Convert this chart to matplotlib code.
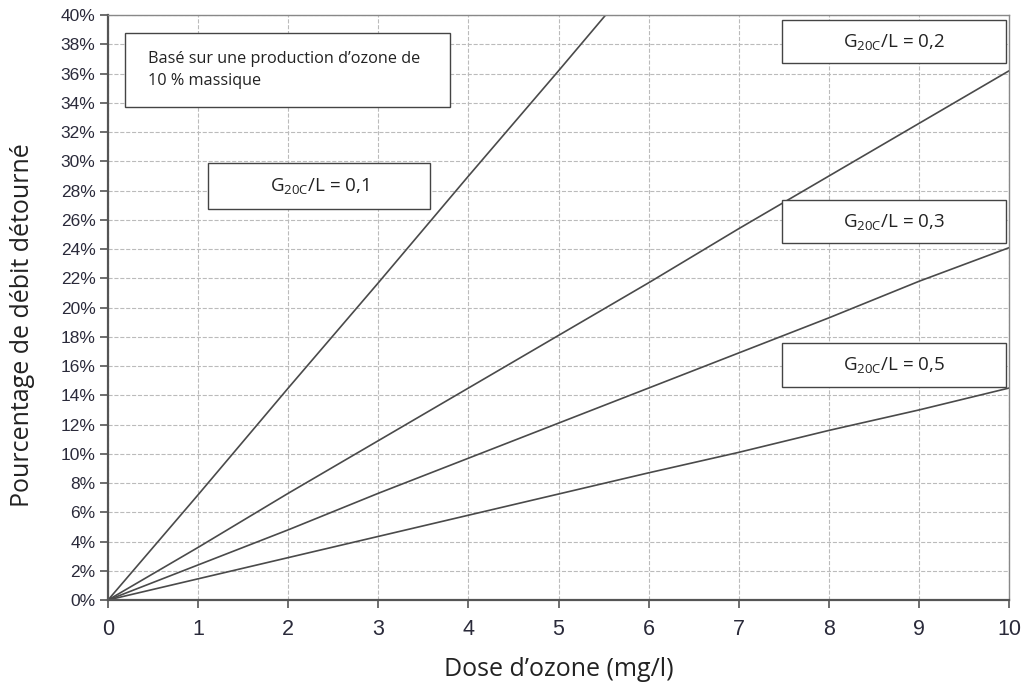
import matplotlib
matplotlib.use('Agg')
import matplotlib.pyplot as plt
from matplotlib.patches import Rectangle
from matplotlib.ticker import FuncFormatter

# Donnees (dose d'ozone en mg/l, % de debit detourne)
dose = [0, 1, 2, 3, 4, 5, 6, 7, 8, 9, 10]
gl_01 = [0, 7.2, 14.5, 21.7, 29.0, 36.2, 43.5]
gl_02 = [0, 3.6, 7.3, 10.9, 14.5, 18.1, 21.7, 25.4, 29.0, 32.6, 36.2]
gl_03 = [0, 2.4, 4.8, 7.3, 9.7, 12.1, 14.5, 16.9, 19.3, 21.8, 24.1]
gl_05 = [0, 1.45, 2.9, 4.35, 5.8, 7.25, 8.7, 10.1, 11.6, 13.0, 14.5]

plt.rcParams['mathtext.fontset'] = 'custom'
plt.rcParams['mathtext.rm'] = 'Open Sans'
plt.rcParams['mathtext.it'] = 'Open Sans'

fig = plt.figure(figsize=(10.24, 6.84), dpi=100)
ax = fig.add_axes([0.1055, 0.1228, 0.88, 0.855])

couleur = '#4a4a4a'
ax.plot(dose[:len(gl_01)], gl_01, color=couleur, lw=1.2)
ax.plot(dose, gl_02, color=couleur, lw=1.2)
ax.plot(dose, gl_03, color=couleur, lw=1.2)
ax.plot(dose, gl_05, color=couleur, lw=1.2)

ax.set_xlim(0, 10)
ax.set_ylim(0, 40)
ax.set_xticks(range(0, 11))
ax.set_yticks(range(0, 41, 2))
ax.yaxis.set_major_formatter(FuncFormatter(lambda v, p: '%d%%' % v))
ax.grid(True, ls='--', color='#bbbbbb', lw=0.8)
ax.set_axisbelow(True)

for s in ax.spines.values():
    s.set_color('#888888')
    s.set_linewidth(1.0)
ax.spines['left'].set_color('#555555')
ax.spines['left'].set_linewidth(1.6)
ax.spines['bottom'].set_color('#555555')
ax.spines['bottom'].set_linewidth(1.6)

ax.tick_params(axis='y', labelsize=12.5, colors='#555555', labelcolor='#2a2a3a', length=6, width=1.2, pad=3)
ax.tick_params(axis='x', labelsize=15.5, colors='#555555', labelcolor='#2a2a3a', length=6, width=1.2, pad=8)
for t in ax.get_yticklabels() + ax.get_xticklabels():
    t.set_family('Liberation Sans')

ax.set_ylabel('Pourcentage de débit détourné', fontsize=18, family='Open Sans', color='#222222')
ax.yaxis.set_label_coords(-0.081, 0.47)
ax.set_xlabel('Dose d\u2019ozone (mg/l)', fontsize=18, family='Open Sans', color='#222222', labelpad=12)

# Encadres
def encadre(x0, y0, x1, y1, texte, ha='center'):
    ax.add_patch(Rectangle((x0, y0), x1 - x0, y1 - y0, transform=ax.transAxes,
                           facecolor='white', edgecolor='#444444', lw=1.0, zorder=5))
    if ha == 'center':
        ax.text((x0 + x1) / 2, (y0 + y1) / 2, texte, transform=ax.transAxes,
                ha='center', va='center', fontsize=13.5, family='Open Sans', color='#222222', zorder=6)
    else:
        ax.text(x0 + 0.025, (y0 + y1) / 2, texte, transform=ax.transAxes,
                ha='left', va='center', fontsize=11.7, family='Open Sans', color='#222222',
                linespacing=1.5, zorder=6)

def fx(px):
    return (px - 108) / (1009 - 108)

def fy(py):
    return (600 - py) / (600 - 15)

encadre(fx(125), fy(107), fx(450), fy(33), 'Basé sur une production d\u2019ozone de\n10 % massique', ha='left')
encadre(fx(208), fy(209), fx(430), fy(163), r'G$_{\mathrm{20C}}$/L = 0,1')
encadre(fx(782), fy(63), fx(1006), fy(20), r'G$_{\mathrm{20C}}$/L = 0,2')
encadre(fx(782), fy(243), fx(1006), fy(200), r'G$_{\mathrm{20C}}$/L = 0,3')
encadre(fx(782), fy(387), fx(1006), fy(343), r'G$_{\mathrm{20C}}$/L = 0,5')

fig.savefig('out.png', dpi=100)
